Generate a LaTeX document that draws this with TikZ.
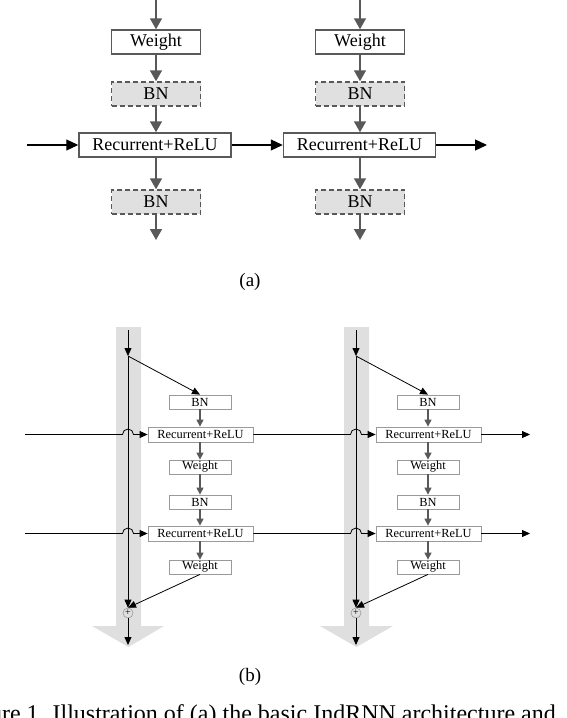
\documentclass[tikz,border=0pt]{standalone}
\usepackage{fontspec}
\setmainfont{Liberation Serif}
\usetikzlibrary{arrows.meta}
\definecolor{linegray}{HTML}{595959}
\definecolor{bngray}{HTML}{E0E0E0}
\definecolor{bandgray}{HTML}{DFDFDF}
\definecolor{thingray}{HTML}{9A9A9A}

\begin{document}
\begin{tikzpicture}[x=1pt,y=-1pt,
    bigbox/.style={draw=linegray,line width=1.5pt,fill=white,minimum width=89pt,minimum height=24pt,inner sep=0pt,font=\fontsize{18}{18}\selectfont},
    bigbn/.style={bigbox,fill=bngray,dash pattern=on 5pt off 3pt},
    bigrec/.style={bigbox,minimum width=152pt},
    bigarrow/.style={draw=linegray,line width=1.6pt,-{Triangle[length=11pt,width=12pt]}},
    blackarrow/.style={line width=1.2pt,-{Triangle[length=12pt,width=11pt]}},
    smallbox/.style={draw=thingray,line width=0.8pt,fill=white,minimum width=62pt,minimum height=14pt,inner sep=0pt,font=\fontsize{12.4}{12.4}\selectfont},
    smallrec/.style={smallbox,minimum width=105pt,minimum height=15pt},
    smallarrow/.style={draw=linegray,line width=1.2pt,-{Triangle[length=7pt,width=7pt]}},
    thinarrow/.style={line width=0.8pt,-{Triangle[length=8pt,width=7pt]}},
    band/.style={fill=bandgray,draw=none},
    plus/.style={circle,draw=thingray,line width=0.6pt,inner sep=0pt,minimum size=10pt,font=\fontsize{10}{10}\selectfont}]
\useasboundingbox (0,0) rectangle (566,718);

% (a)
\node[bigbox] (wa1) at (156,42) {Weight};
\node[bigbn] (bna1) at (156,94) {BN};
\node[bigrec] (ra1) at (155,145) {Recurrent+ReLU};
\node[bigbn] (bna2) at (156,202) {BN};
\node[bigbox] (wa2) at (360,42) {Weight};
\node[bigbn] (bna3) at (360,94) {BN};
\node[bigrec] (ra2) at (359.5,145) {Recurrent+ReLU};
\node[bigbn] (bna4) at (360,202) {BN};
\coordinate (ina1) at (156,0);
\coordinate (outa1) at (156,240);
\coordinate (ina2) at (360,0);
\coordinate (outa2) at (360,240);
\coordinate (lefta) at (27,145);
\coordinate (righta) at (487,145);
\draw[bigarrow] (ina1) -- (wa1);
\draw[bigarrow] (wa1) -- (bna1);
\draw[bigarrow] (bna1) -- (ra1.north -| bna1);
\draw[bigarrow] (ra1.south -| bna2) -- (bna2);
\draw[bigarrow] (bna2) -- (outa1);
\draw[bigarrow] (ina2) -- (wa2);
\draw[bigarrow] (wa2) -- (bna3);
\draw[bigarrow] (bna3) -- (ra2.north -| bna3);
\draw[bigarrow] (ra2.south -| bna4) -- (bna4);
\draw[bigarrow] (bna4) -- (outa2);
\draw[blackarrow] (lefta) -- (ra1);
\draw[blackarrow] (ra1) -- (ra2);
\draw[blackarrow] (ra2) -- (righta);
\node[font=\fontsize{19}{19}\selectfont] (capa) at (250,282) {(a)};

% (b)
\draw[band] (116,327) -- (141,327) -- (141,626) -- (164,626) -- (128.5,647) -- (92,626) -- (116,626) -- cycle;
\draw[band] (344,327) -- (369,327) -- (369,626) -- (393,626) -- (356.5,647) -- (320,626) -- (344,626) -- cycle;

\node[smallbox] (bnb1) at (200,402) {BN};
\node[smallrec] (rb1) at (200.5,434.5) {Recurrent+ReLU};
\node[smallbox] (wb1) at (200,467) {Weight};
\node[smallbox] (bnb2) at (200,502) {BN};
\node[smallrec] (rb2) at (200.5,533.5) {Recurrent+ReLU};
\node[smallbox] (wb2) at (200,567) {Weight};
\node[plus] (plus1) at (128,613) {+};
\node[smallbox] (bnb3) at (428,402) {BN};
\node[smallrec] (rb3) at (428.5,434.5) {Recurrent+ReLU};
\node[smallbox] (wb3) at (428,467) {Weight};
\node[smallbox] (bnb4) at (428,502) {BN};
\node[smallrec] (rb4) at (428.5,533.5) {Recurrent+ReLU};
\node[smallbox] (wb4) at (428,567) {Weight};
\node[plus] (plus2) at (356,613) {+};

\coordinate (topb1) at (128,330);
\coordinate (splitb1) at (128,356);
\coordinate (endb1) at (128,645);
\coordinate (topb2) at (356,330);
\coordinate (splitb2) at (356,356);
\coordinate (endb2) at (356,645);
\coordinate (leftb1) at (25,434.5);
\coordinate (leftb2) at (25,533.5);
\coordinate (rightb1) at (530,434.5);
\coordinate (rightb2) at (530,533.5);

\draw[thinarrow] (topb1) -- (splitb1);
\draw[thinarrow] (splitb1) -- (plus1.north);
\draw[thinarrow] (splitb1) -- (bnb1.north);
\draw[thinarrow] (wb2.south) -- (plus1.north);
\draw[thinarrow] (plus1) -- (endb1);
\draw[thinarrow] (topb2) -- (splitb2);
\draw[thinarrow] (splitb2) -- (plus2.north);
\draw[thinarrow] (splitb2) -- (bnb3.north);
\draw[thinarrow] (wb4.south) -- (plus2.north);
\draw[thinarrow] (plus2) -- (endb2);

\draw[smallarrow] (bnb1) -- (rb1.north -| bnb1);
\draw[smallarrow] (rb1.south -| wb1) -- (wb1);
\draw[smallarrow] (wb1) -- (bnb2);
\draw[smallarrow] (bnb2) -- (rb2.north -| bnb2);
\draw[smallarrow] (rb2.south -| wb2) -- (wb2);
\draw[smallarrow] (bnb3) -- (rb3.north -| bnb3);
\draw[smallarrow] (rb3.south -| wb3) -- (wb3);
\draw[smallarrow] (wb3) -- (bnb4);
\draw[smallarrow] (bnb4) -- (rb4.north -| bnb4);
\draw[smallarrow] (rb4.south -| wb4) -- (wb4);

\draw[thinarrow] (leftb1) -- (122.5,434.5) arc[start angle=180,end angle=0,radius=5.5pt] -- (rb1.west);
\draw[thinarrow] (rb1.east) -- (350.5,434.5) arc[start angle=180,end angle=0,radius=5.5pt] -- (rb3.west);
\draw[thinarrow] (rb3.east) -- (rightb1);
\draw[thinarrow] (leftb2) -- (122.5,533.5) arc[start angle=180,end angle=0,radius=5.5pt] -- (rb2.west);
\draw[thinarrow] (rb2.east) -- (350.5,533.5) arc[start angle=180,end angle=0,radius=5.5pt] -- (rb4.west);
\draw[thinarrow] (rb4.east) -- (rightb2);
\node[font=\fontsize{19}{19}\selectfont] (capb) at (250,677) {(b)};

\node[anchor=base east,inner sep=0pt,font=\fontsize{24}{24}\selectfont] (caption) at (556,721) {Figure 1. Illustration of (a) the basic IndRNN architecture and};
\end{tikzpicture}
\end{document}
